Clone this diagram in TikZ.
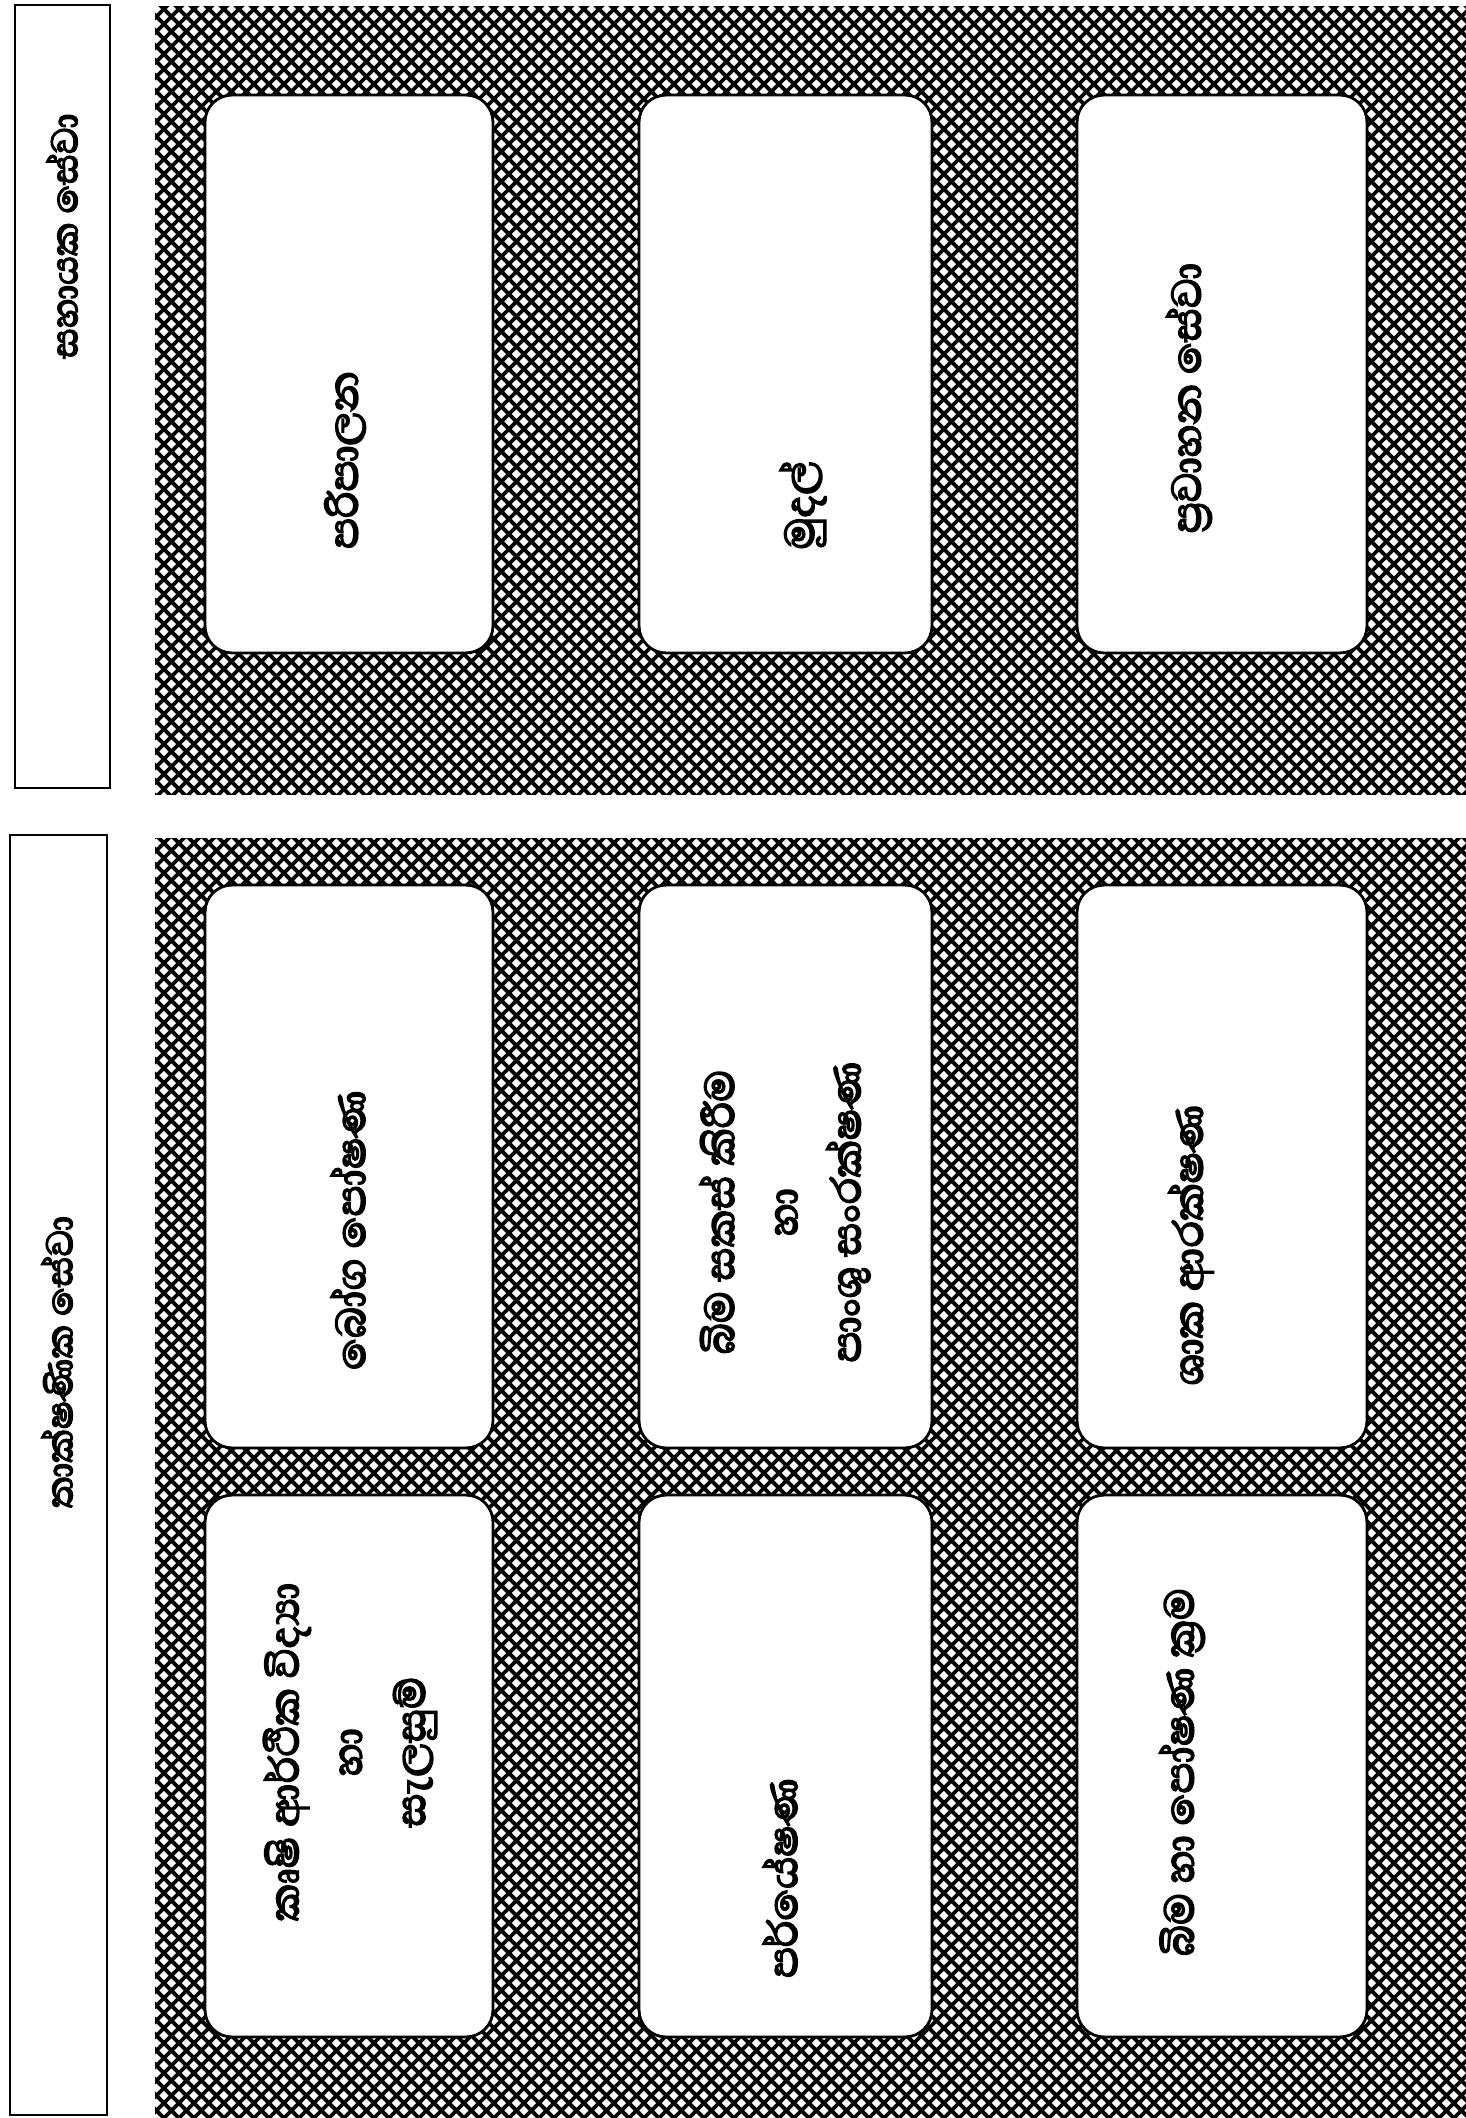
\documentclass[tikz,border=0pt]{standalone}
\usepackage{fontspec}
\usetikzlibrary{patterns}
\newfontfamily\sinhalafont[Script=Sinhala,FakeBold=3.5]{Abhaya Libre}
\pgfdeclarepatternformonly{xhatch}{\pgfqpoint{0pt}{0pt}}{\pgfqpoint{8.5pt}{8.5pt}}{\pgfqpoint{8.5pt}{8.5pt}}{%
  \pgfsetlinewidth{2.2pt}%
  \pgfpathmoveto{\pgfqpoint{0pt}{0pt}}\pgfpathlineto{\pgfqpoint{8.5pt}{8.5pt}}%
  \pgfpathmoveto{\pgfqpoint{0pt}{8.5pt}}\pgfpathlineto{\pgfqpoint{8.5pt}{0pt}}%
  \pgfusepath{stroke}}
\begin{document}
\begin{tikzpicture}[x=0.02cm,y=-0.02cm,
  panel/.style={fill=white,postaction={pattern=xhatch,pattern color=black}},
  header/.style={draw=black,line width=1.3pt,fill=white},
  box/.style={draw=black,line width=1.6pt,fill=white,rounded corners=0.54cm,inner sep=0pt},
  lbl/.style={rotate=90,font=\sinhalafont\fontsize{30}{36}\selectfont,align=center,inner sep=0pt},
  hlbl/.style={lbl,font=\sinhalafont\fontsize{27}{34}\selectfont}]
\useasboundingbox (0,0) rectangle (1466,2118);
\fill[white] (0,0) rectangle (1466,2118);
% hatched panels
\path[panel] (155,7) rectangle (1466,794);
\path[panel] (155,838) rectangle (1466,2118);
% header strips
\draw[header] (15,5) rectangle (110,788);
\draw[header] (10,835) rectangle (107,2115);
\node[hlbl] (h1) at (62,236) {සහායක සේවා};
\node[hlbl] (h2) at (57,1362) {තාක්ෂණික සේවා};
% support services boxes
\node[box,minimum width=5.76cm,minimum height=11.16cm] (s1) at (349,374) {};
\node[box,minimum width=5.86cm,minimum height=11.16cm] (s2) at (785.5,374) {};
\node[box,minimum width=5.80cm,minimum height=11.16cm] (s3) at (1222,374) {};
\node[lbl] (s1t) at (345,460) {පරිපාලන};
\node[lbl] (s2t) at (803,505) {මුදල්};
\node[lbl] (s3t) at (1189,398) {ප්^^^^200dරවාහන සේවා};
% technical services boxes
\node[box,minimum width=5.76cm,minimum height=11.26cm] (t1) at (349,1166.5) {};
\node[box,minimum width=5.86cm,minimum height=11.26cm] (t2) at (785.5,1166.5) {};
\node[box,minimum width=5.80cm,minimum height=11.26cm] (t3) at (1222,1166.5) {};
\node[box,minimum width=5.76cm,minimum height=10.84cm] (t4) at (349,1766) {};
\node[box,minimum width=5.86cm,minimum height=10.84cm] (t5) at (785.5,1766) {};
\node[box,minimum width=5.80cm,minimum height=10.84cm] (t6) at (1222,1766) {};
\node[lbl] (t1t) at (348,1230) {බෝග පෝෂණ};
\node[lbl] (t2t) at (785,1212) {බිම සකස් කිරීම\\හා\\පාංශු සංරක්ෂණ};
\node[lbl] (t3t) at (1191,1245) {ශාක ආරක්ෂණ};
\node[lbl] (t4t) at (350,1752) {කෘෂි ආර්ථික විද්^^^^200dයා\\හා\\සැලසුම්};
\node[lbl] (t5t) at (780,1878) {පර්යේෂණ};
\node[lbl] (t6t) at (1182,1772) {බිම හා පෝෂණ ක්^^^^200dරම};
\end{tikzpicture}
\end{document}
